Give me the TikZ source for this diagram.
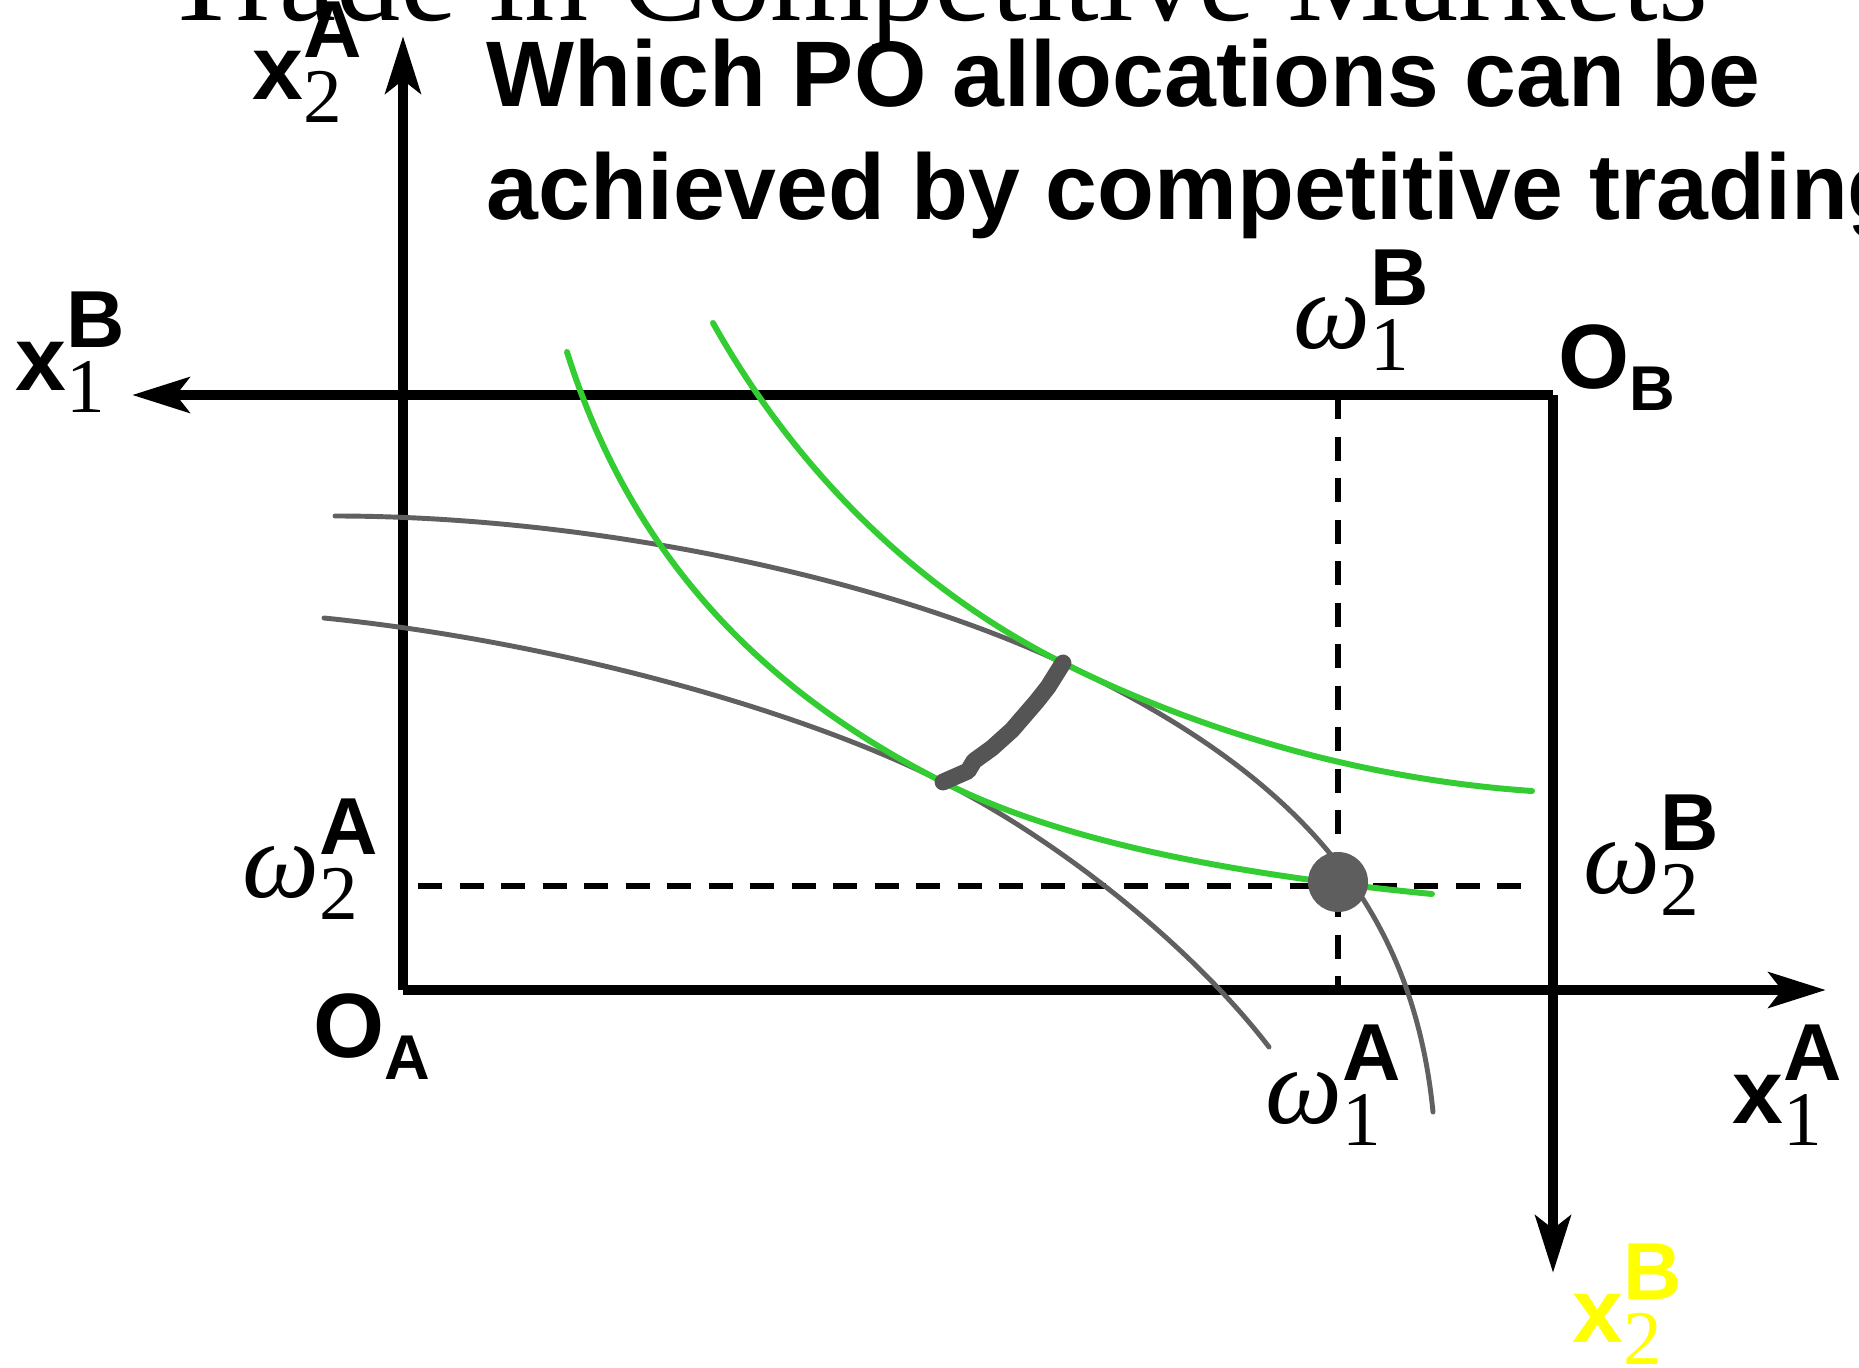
\documentclass[tikz,border=0pt]{standalone}
\usepackage{fontspec}
\setmainfont{Liberation Serif}
\setsansfont{Liberation Sans}
\usetikzlibrary{arrows.meta}
\definecolor{curvegray}{RGB}{96,96,96}
\definecolor{dotgray}{RGB}{94,94,94}
\definecolor{pogray}{RGB}{85,85,85}
\definecolor{icgreen}{RGB}{51,204,51}
\definecolor{labyellow}{RGB}{255,255,0}

% sub- and superscript stacked after a base letter
\newcommand{\scriptpair}[2]{\rlap{\raisebox{12pt}{\fontsize{23}{23}\selectfont\sffamily\bfseries #2}}\raisebox{-6.3pt}{\fontsize{22}{22}\selectfont\rmfamily\mdseries #1}}
\newcommand{\xlbl}[2]{x\scriptpair{#1}{#2}}
\newcommand{\wlbl}[2]{{\fontsize{31}{31}\selectfont\rmfamily\mdseries\itshape ω}\scriptpair{#1}{#2}}
\newcommand{\olbl}[1]{O\raisebox{-6.3pt}{\fontsize{18}{18}\selectfont #1}}

\tikzset{
  axis/.style={line width=3.1pt, -{Stealth[length=0.57cm, width=0.35cm, inset=0.13cm]}},
  guide/.style={line width=1.85pt, dash pattern=on 0.24cm off 0.175cm},
  grayic/.style={curvegray, line width=1.4pt, line cap=round},
  greenic/.style={icgreen, line width=1.7pt, line cap=round},
  lbl/.style={font=\fontsize{26}{26}\selectfont\sffamily\bfseries, anchor=base west, inner sep=0pt},
}

\begin{document}
\begin{tikzpicture}
    \useasboundingbox (0,0) rectangle (18.59,13.67);

    % titles
    \node[font=\fontsize{36.5}{36.5}\selectfont\rmfamily, anchor=base west, inner sep=0pt] (trade) at (1.62,13.46)
        {Trade in Competitive Markets};
    \node[lbl, font=\fontsize{26.5}{26.5}\selectfont\sffamily\bfseries] (ask1) at (4.86,12.60) {Which PO allocations can be};
    \node[lbl, font=\fontsize{26.5}{26.5}\selectfont\sffamily\bfseries] (ask2) at (4.86,11.47) {achieved by competitive trading};

    % origins and axis ends
    \coordinate (oA) at (4.03,3.77);
    \coordinate (oB) at (15.53,9.72);
    \coordinate (x2Aend) at (4.03,13.31);
    \coordinate (x1Aend) at (18.26,3.77);
    \coordinate (x1Bend) at (1.32,9.72);
    \coordinate (x2Bend) at (15.53,0.94);

    % endowment guides
    \coordinate (wl) at (4.18,4.81);
    \coordinate (wr) at (15.38,4.81);
    \coordinate (wt) at (13.38,9.72);
    \coordinate (wb) at (13.38,3.77);
    \draw[guide] (wl) -- (wr);
    \draw[guide] (wt) -- (wb);

    % axes
    \draw[axis] (oA) -- (x2Aend);
    \draw[axis] (oA) -- (x1Aend);
    \draw[axis] (oB) -- (x1Bend);
    \draw[axis] (oB) -- (x2Bend);

    % tangency points
    \coordinate (tlow) at (9.43,5.85);
    \coordinate (thigh) at (10.63,7.04);

    % indifference curves
    \draw[grayic] (3.35,8.51) .. controls (5.84,8.51) and (8.75,7.92) .. (thigh)
        .. controls (13.02,5.92) and (14.13,4.57) .. (14.33,2.55);
    \draw[grayic] (3.24,7.49) .. controls (5.42,7.27) and (7.90,6.62) .. (tlow)
        .. controls (10.62,5.25) and (11.93,4.19) .. (12.69,3.20);
    \draw[greenic] (5.67,10.15) .. controls (6.28,8.21) and (7.51,6.82) .. (tlow)
        .. controls (10.50,5.31) and (12.07,4.95) .. (14.32,4.73);
    \draw[greenic] (7.13,10.44) .. controls (7.96,8.96) and (9.17,7.77) .. (thigh)
        .. controls (12.07,6.32) and (13.71,5.87) .. (15.32,5.76);

    % PO allocations reachable
    \draw[pogray, line width=4.8pt, line cap=round, line join=round] (tlow) -- (9.68,5.96) -- (9.74,6.06)
        -- (9.92,6.19) -- (10.12,6.37) -- (10.37,6.66) -- (10.48,6.80) -- (thigh);

    % endowment
    \node[circle, fill=dotgray, minimum size=0.6cm, inner sep=0pt] (endow) at (13.38,4.85) {};

    % labels
    \node[lbl] (x2A) at (2.52,12.67) {\xlbl{2}{A}};
    \node[lbl] (x1B) at (0.15,9.77) {\xlbl{1}{B}};
    \node[lbl] (w1B) at (12.93,10.19) {\wlbl{1}{B}};
    \node[lbl] (OB) at (15.58,9.79) {\olbl{B}};
    \node[lbl] (w2A) at (2.42,4.70) {\wlbl{2}{A}};
    \node[lbl] (OA) at (3.13,3.10) {\olbl{A}};
    \node[lbl] (w2B) at (15.83,4.74) {\wlbl{2}{B}};
    \node[lbl] (w1A) at (12.65,2.44) {\wlbl{1}{A}};
    \node[lbl] (x1A) at (17.32,2.44) {\xlbl{1}{A}};
    \node[lbl, text=labyellow] (x2B) at (15.72,0.25) {\xlbl{2}{B}};
\end{tikzpicture}
\end{document}
